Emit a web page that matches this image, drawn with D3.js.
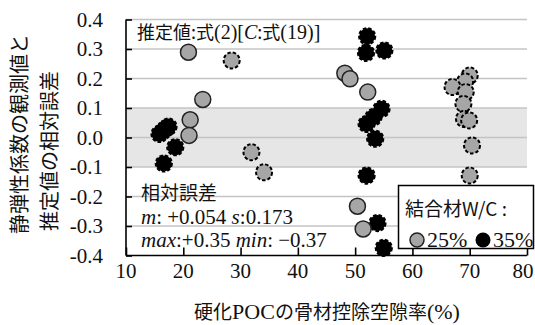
<!DOCTYPE html>
<html><head><meta charset="utf-8">
<script src="https://cdn.jsdelivr.net/npm/d3@7"></script>
<style>
body{margin:0;background:#fff;}
svg{display:block;}
svg text, svg tspan.s {font-family:"Liberation Serif" !important;}
svg text.c, svg tspan.c {font-family:"Noto Sans CJK JP" !important;}
</style></head>
<body>
<svg id="chart" width="535" height="325"></svg>
<script>
// ---- data ----
const xTicks = [10, 20, 30, 40, 50, 60, 70, 80];
const yTicks = [-0.4, -0.3, -0.2, -0.1, 0.0, 0.1, 0.2, 0.3, 0.4];
const yTickLabels = ["-0.4", "-0.3", "-0.2", "-0.1", "0.0", "0.1", "0.2", "0.3", "0.4"];
// W/C 35% (black)
const w35x = [15.85, 16.46, 16.98, 17.42, 18.6, 16.6, 52.1, 51.9, 55.1, 54.6, 53.2, 52.0, 53.5, 52.0, 53.9, 55.0];
const w35y = [0.012, 0.022, 0.031, 0.037, -0.033, -0.088, 0.343, 0.287, 0.295, 0.097, 0.069, 0.046, -0.004, -0.129, -0.290, -0.374];
// W/C 25% (gray, solid outline)
const w25x = [20.9, 23.4, 21.2, 21.0, 48.2, 49.1, 52.2, 50.4, 51.4];
const w25y = [0.289, 0.129, 0.060, 0.007, 0.218, 0.199, 0.154, -0.233, -0.310];
// W/C 25% (gray, dashed outline)
const w25dx = [28.45, 31.9, 34.1, 70.0, 69.2, 67.0, 69.3, 68.9, 69.0, 69.9, 70.4, 70.0];
const w25dy = [0.261, -0.050, -0.118, 0.210, 0.190, 0.171, 0.154, 0.114, 0.063, 0.058, -0.027, -0.129];

const svg = d3.select("#chart");
const x = d3.scaleLinear().domain([10, 80]).range([126, 527]);
const y = d3.scaleLinear().domain([-0.4, 0.4]).range([255.5, 19.5]);

// band
svg.append("rect").attr("x", x(10)).attr("y", y(0.1))
  .attr("width", x(80) - x(10)).attr("height", y(-0.1) - y(0.1)).attr("fill", "#e6e6e6");
// gridlines
svg.append("g").selectAll("line").data(yTicks.filter(d => d > -0.39)).join("line")
  .attr("x1", x(10)).attr("x2", x(80)).attr("y1", d => y(d)).attr("y2", d => y(d))
  .attr("stroke", "#c4c4c4").attr("stroke-width", 1.5);

// axes
const yAxis = d3.axisLeft(y).tickValues(yTicks).tickSize(-6).tickFormat("");
const gy = svg.append("g").attr("transform", `translate(${x(10)},0)`).call(yAxis);
gy.select(".domain").attr("stroke", "#000").attr("stroke-width", 1.6).attr("d", `M0,${y(0.4)}V${y(-0.4)}`);
gy.selectAll(".tick line").attr("stroke", "#000").attr("stroke-width", 1.6);

const xAxis = d3.axisBottom(x).tickValues(xTicks).tickSize(-8).tickFormat("");
const gx = svg.append("g").attr("transform", `translate(0,${y(-0.4)})`).call(xAxis);
gx.select(".domain").attr("stroke", "#000").attr("stroke-width", 1.6).attr("d", `M${x(10)},0H${x(80)}`);
gx.selectAll(".tick line").attr("stroke", "#000").attr("stroke-width", 1.6);

// tick labels
svg.append("g").selectAll("text").data(yTicks).join("text")
  .attr("x", 103).attr("y", d => y(d) + 7)
  .attr("text-anchor", "end").attr("font-size", 21).attr("fill", "#111")
  .text((d, i) => yTickLabels[i]);
svg.append("g").selectAll("text").data(xTicks).join("text")
  .attr("x", d => Math.min(x(d), 523)).attr("y", 278)
  .attr("text-anchor", "middle").attr("font-size", 21).attr("fill", "#111")
  .text(d => d);

// points
const R = 8;
const pts35 = w35x.map((v, i) => [v, w35y[i]]);
const pts25 = w25x.map((v, i) => [v, w25y[i]]);
const pts25d = w25dx.map((v, i) => [v, w25dy[i]]);
svg.append("g").selectAll("circle").data(pts35).join("circle")
  .attr("cx", d => x(d[0])).attr("cy", d => y(d[1])).attr("r", R)
  .attr("fill", "#000").attr("stroke", "#000").attr("stroke-width", 2.2).attr("stroke-dasharray", "3.5,2");
svg.append("g").selectAll("circle").data(pts25d).join("circle")
  .attr("cx", d => x(d[0])).attr("cy", d => y(d[1])).attr("r", R)
  .attr("fill", "#a6a6a6").attr("stroke", "#000").attr("stroke-width", 2).attr("stroke-dasharray", "3.5,2");
svg.append("g").selectAll("circle").data(pts25).join("circle")
  .attr("cx", d => x(d[0])).attr("cy", d => y(d[1])).attr("r", R)
  .attr("fill", "#a6a6a6").attr("stroke", "#222").attr("stroke-width", 1.5);

// annotation top
const t1 = svg.append("text").attr("x", 137).attr("y", 39).attr("font-size", 20).attr("fill", "#111");
t1.append("tspan").attr("class", "c").attr("font-size", 18).text("推定値:式");
t1.append("tspan").attr("class", "s").text("(2)[");
t1.append("tspan").attr("class", "s").attr("font-style", "italic").text("C");
t1.append("tspan").attr("class", "c").attr("font-size", 18).text(":式");
t1.append("tspan").attr("class", "s").text("(19)]");

// annotation bottom-left
svg.append("text").attr("class", "c").attr("x", 141).attr("y", 200).attr("font-size", 19).attr("fill", "#111").text("相対誤差");
const t2 = svg.append("text").attr("x", 141).attr("y", 224).attr("font-size", 21).attr("fill", "#111");
t2.append("tspan").attr("font-style", "italic").text("m");
t2.append("tspan").text(": +0.054 ");
t2.append("tspan").attr("font-style", "italic").text("s");
t2.append("tspan").text(":0.173");
const t3 = svg.append("text").attr("x", 141).attr("y", 247).attr("font-size", 21).attr("fill", "#111");
t3.append("tspan").attr("font-style", "italic").text("max");
t3.append("tspan").text(":+0.35 ");
t3.append("tspan").attr("font-style", "italic").text("min");
t3.append("tspan").text(": \u22120.37");

// legend
const lg = svg.append("g");
lg.append("rect").attr("x", 398.5).attr("y", 185.5).attr("width", 135).attr("height", 63)
  .attr("fill", "#fff").attr("stroke", "#000").attr("stroke-width", 1.5);
lg.append("text").attr("class", "c").attr("x", 405).attr("y", 216).attr("font-size", 19).attr("fill", "#111").text("結合材W/C :");
lg.append("circle").attr("cx", 417).attr("cy", 240).attr("r", 7).attr("fill", "#a6a6a6").attr("stroke", "#222").attr("stroke-width", 1.5);
lg.append("text").attr("x", 427).attr("y", 247).attr("font-size", 22).attr("fill", "#111").text("25%");
lg.append("circle").attr("cx", 483).attr("cy", 240).attr("r", 7.5).attr("fill", "#000");
lg.append("text").attr("x", 493).attr("y", 247).attr("font-size", 22).attr("fill", "#111").text("35%");

// axis titles
const xt = svg.append("text").attr("x", (186 + 468) / 2).attr("y", 319)
  .attr("text-anchor", "middle").attr("font-size", 22).attr("fill", "#111");
xt.append("tspan").attr("class", "c").attr("font-size", 19).text("硬化");
xt.append("tspan").attr("class", "s").text("POC");
xt.append("tspan").attr("class", "c").attr("font-size", 19).text("の骨材控除空隙率");
xt.append("tspan").attr("class", "s").text("(%)");

svg.append("text").attr("class", "c").attr("transform", "translate(27,234) rotate(-90)")
  .attr("font-size", 20).attr("fill", "#111").text("静弾性係数の観測値と");
svg.append("text").attr("class", "c").attr("transform", "translate(57,231) rotate(-90)")
  .attr("font-size", 20).attr("fill", "#111").text("推定値の相対誤差");
</script>
</body></html>
